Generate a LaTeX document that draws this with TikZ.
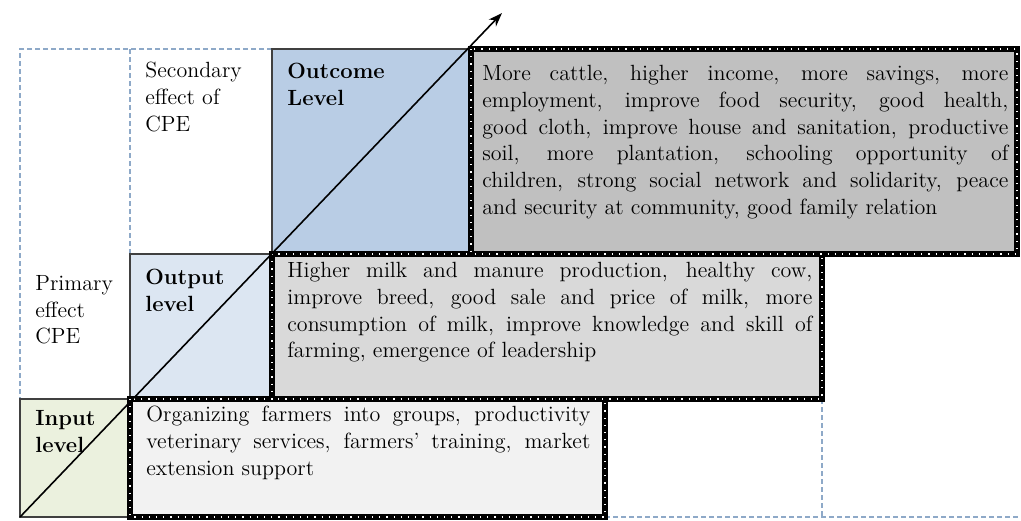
\documentclass[tikz,border=0pt]{standalone}
\usetikzlibrary{arrows.meta}

\definecolor{gridblue}{HTML}{8EA9C8}
\definecolor{outcomefill}{HTML}{B9CDE5}
\definecolor{outputfill}{HTML}{DCE6F2}
\definecolor{inputfill}{HTML}{EBF1DE}
\definecolor{outcomegray}{HTML}{C0C0C0}
\definecolor{outputgray}{HTML}{D9D9D9}
\definecolor{inputgray}{HTML}{F2F2F2}

\newcommand\cellfont{\fontsize{11}{13.35}\selectfont\hyphenpenalty=10000}

\tikzset{
  levelbox/.style={draw=black!75, line width=0.6pt},
  hatched/.style={draw=white, line width=0.6pt, dash pattern=on 0.6pt off 3pt,
    preaction={draw=black, line width=3pt, solid}},
  gridline/.style={draw=gridblue, line width=0.6pt, dash pattern=on 2.5pt off 1.5pt},
  cell/.style={anchor=north west, inner sep=0pt, align=left, font=\cellfont},
  para/.style={cell, align=justify}
}

\begin{document}
\begin{tikzpicture}[x=0.5pt, y=-0.5pt]
  \useasboundingbox (0,0) rectangle (1021,520);

  % cell fills
  \fill[inputfill] (20,399) rectangle (130,517);
  \fill[outputfill] (130,254) rectangle (272,399);
  \fill[outcomefill] (272,49) rectangle (471,254);
  \fill[inputgray] (130,399) rectangle (605,517);
  \fill[outputgray] (272,254) rectangle (822,399);
  \fill[outcomegray] (471,49) rectangle (1017,254);

  % dashed table grid
  \draw[gridline] (272,49) -- (20,49) -- (20,399);
  \draw[gridline] (130,49) -- (130,254);
  \draw[gridline] (605,517) -- (1021,517);
  \draw[gridline] (822,399) -- (822,517);

  % level boxes
  \draw[levelbox] (20,399) rectangle (130,517);
  \draw[levelbox] (130,254) rectangle (272,399);
  \draw[levelbox] (272,49) rectangle (471,254);

  % result boxes
  \draw[hatched] (130,399) rectangle (605,517);
  \draw[hatched] (272,254) rectangle (822,399);
  \draw[hatched] (471,49) rectangle (1017,254);

  % labels
  \node (secondary) [cell] at (145,62) {Secondary\\effect of\\CPE};
  \node (primary) [cell] at (35,275) {Primary\\effect\\CPE};
  \node (outcome) [cell, font=\cellfont\bfseries] at (287,63) {Outcome\\Level};
  \node (output) [cell, font=\cellfont\bfseries] at (145,269) {Output\\level};
  \node (input) [cell, font=\cellfont\bfseries] at (35,410) {Input\\level};

  \node (outcometext) [para, text width=263pt] at (482,65) {More cattle, higher income, more savings, more\linebreak
    employment, improve food security, good health,\linebreak
    good cloth, improve house and sanitation, productive\linebreak
    soil, more plantation, schooling opportunity of\linebreak
    children, strong social network and solidarity, peace\linebreak
    and security at community, good family relation};
  \node (outputtext) [para, text width=262.5pt] at (287,262) {Higher milk and manure production, healthy cow,\linebreak
    improve breed, good sale and price of milk, more\linebreak
    consumption of milk, improve knowledge and skill of\linebreak
    farming, emergence of leadership};
  \node (inputtext) [para, text width=222pt] at (146,406) {Organizing farmers into groups, productivity\linebreak
    veterinary services, farmers' training, market\linebreak
    extension support};

  % diagonal arrow
  \coordinate (start) at (20,517);
  \coordinate (tip) at (502,13);
  \draw[-{Stealth[length=7pt, width=5pt]}, line width=0.8pt] (start) -- (tip);
\end{tikzpicture}
\end{document}
